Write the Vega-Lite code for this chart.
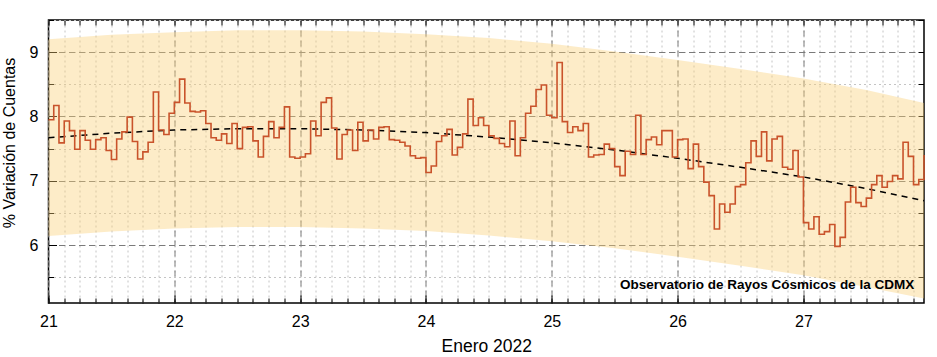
{
  "$schema": "https://vega.github.io/schema/vega-lite/v6.json",
  "width": 875.5,
  "height": 283,
  "autosize": {"type": "none"},
  "padding": {"left": 48.5, "top": 20, "right": 13, "bottom": 54},
  "config": {
    "view": {"stroke": "black", "strokeWidth": 1.5},
    "font": "Liberation Sans",
    "axis": {"domain": false, "labelFont": "Liberation Sans", "titleFont": "Liberation Sans", "labelColor": "black", "titleColor": "black", "tickColor": "black", "titleFontWeight": "normal", "labelFlush": false, "labelOverlap": false}
  },
  "datasets": {
    "serie": [
      {"t":21,"v":7.95},{"t":21.0417,"v":8.17},{"t":21.0833,"v":7.59},{"t":21.125,"v":7.93},{"t":21.1667,"v":7.78},{"t":21.2083,"v":7.49},{"t":21.25,"v":7.78},{"t":21.2917,"v":7.63},{"t":21.3333,"v":7.49},{"t":21.375,"v":7.64},{"t":21.4167,"v":7.67},{"t":21.4583,"v":7.47},{"t":21.5,"v":7.33},{"t":21.5417,"v":7.65},{"t":21.5833,"v":7.76},{"t":21.625,"v":7.99},{"t":21.6667,"v":7.61},{"t":21.7083,"v":7.34},{"t":21.75,"v":7.45},{"t":21.7917,"v":7.60},{"t":21.8333,"v":8.38},{"t":21.875,"v":7.79},{"t":21.9167,"v":7.72},{"t":21.9583,"v":8.05},
      {"t":22,"v":8.22},{"t":22.0417,"v":8.58},{"t":22.0833,"v":8.21},{"t":22.125,"v":8.08},{"t":22.1667,"v":8.07},{"t":22.2083,"v":8.09},{"t":22.25,"v":7.89},{"t":22.2917,"v":7.67},{"t":22.3333,"v":7.63},{"t":22.375,"v":7.73},{"t":22.4167,"v":7.58},{"t":22.4583,"v":7.89},{"t":22.5,"v":7.50},{"t":22.5417,"v":7.83},{"t":22.5833,"v":7.84},{"t":22.625,"v":7.62},{"t":22.6667,"v":7.37},{"t":22.7083,"v":7.69},{"t":22.75,"v":7.92},{"t":22.7917,"v":7.67},{"t":22.8333,"v":7.83},{"t":22.875,"v":8.15},{"t":22.9167,"v":7.37},{"t":22.9583,"v":7.35},
      {"t":23,"v":7.37},{"t":23.0417,"v":7.42},{"t":23.0833,"v":7.93},{"t":23.125,"v":7.70},{"t":23.1667,"v":8.22},{"t":23.2083,"v":8.29},{"t":23.25,"v":7.82},{"t":23.2917,"v":7.34},{"t":23.3333,"v":7.72},{"t":23.375,"v":7.79},{"t":23.4167,"v":7.47},{"t":23.4583,"v":7.91},{"t":23.5,"v":7.62},{"t":23.5417,"v":7.79},{"t":23.5833,"v":7.65},{"t":23.625,"v":7.83},{"t":23.6667,"v":7.84},{"t":23.7083,"v":7.64},{"t":23.75,"v":7.63},{"t":23.7917,"v":7.60},{"t":23.8333,"v":7.54},{"t":23.875,"v":7.39},{"t":23.9167,"v":7.35},{"t":23.9583,"v":7.36},
      {"t":24,"v":7.13},{"t":24.0417,"v":7.23},{"t":24.0833,"v":7.61},{"t":24.125,"v":7.70},{"t":24.1667,"v":7.80},{"t":24.2083,"v":7.40},{"t":24.25,"v":7.52},{"t":24.2917,"v":7.73},{"t":24.3333,"v":8.27},{"t":24.375,"v":7.86},{"t":24.4167,"v":7.98},{"t":24.4583,"v":7.86},{"t":24.5,"v":7.70},{"t":24.5417,"v":7.66},{"t":24.5833,"v":7.58},{"t":24.625,"v":7.53},{"t":24.6667,"v":7.93},{"t":24.7083,"v":7.39},{"t":24.75,"v":7.67},{"t":24.7917,"v":8.05},{"t":24.8333,"v":8.16},{"t":24.875,"v":8.42},{"t":24.9167,"v":8.49},{"t":24.9583,"v":8.02},
      {"t":25,"v":7.98},{"t":25.0417,"v":8.84},{"t":25.0833,"v":7.92},{"t":25.125,"v":7.75},{"t":25.1667,"v":7.84},{"t":25.2083,"v":7.78},{"t":25.25,"v":7.89},{"t":25.2917,"v":7.37},{"t":25.3333,"v":7.40},{"t":25.375,"v":7.41},{"t":25.4167,"v":7.57},{"t":25.4583,"v":7.50},{"t":25.5,"v":7.22},{"t":25.5417,"v":7.08},{"t":25.5833,"v":7.46},{"t":25.625,"v":7.41},{"t":25.6667,"v":8.02},{"t":25.7083,"v":7.41},{"t":25.75,"v":7.64},{"t":25.7917,"v":7.68},{"t":25.8333,"v":7.56},{"t":25.875,"v":7.78},{"t":25.9167,"v":7.78},{"t":25.9583,"v":7.37},
      {"t":26,"v":7.64},{"t":26.0417,"v":7.65},{"t":26.0833,"v":7.19},{"t":26.125,"v":7.57},{"t":26.1667,"v":7.22},{"t":26.2083,"v":6.98},{"t":26.25,"v":6.77},{"t":26.2917,"v":6.25},{"t":26.3333,"v":6.64},{"t":26.375,"v":6.51},{"t":26.4167,"v":6.64},{"t":26.4583,"v":6.91},{"t":26.5,"v":6.94},{"t":26.5417,"v":7.28},{"t":26.5833,"v":7.62},{"t":26.625,"v":7.38},{"t":26.6667,"v":7.76},{"t":26.7083,"v":7.31},{"t":26.75,"v":7.65},{"t":26.7917,"v":7.69},{"t":26.8333,"v":7.21},{"t":26.875,"v":7.18},{"t":26.9167,"v":7.47},{"t":26.9583,"v":7.06},
      {"t":27,"v":6.35},{"t":27.0417,"v":6.25},{"t":27.0833,"v":6.44},{"t":27.125,"v":6.17},{"t":27.1667,"v":6.21},{"t":27.2083,"v":6.32},{"t":27.25,"v":5.98},{"t":27.2917,"v":6.12},{"t":27.3333,"v":6.67},{"t":27.375,"v":6.90},{"t":27.4167,"v":6.66},{"t":27.4583,"v":6.60},{"t":27.5,"v":6.73},{"t":27.5417,"v":6.94},{"t":27.5833,"v":7.08},{"t":27.625,"v":6.90},{"t":27.6667,"v":6.99},{"t":27.7083,"v":7.08},{"t":27.75,"v":7.03},{"t":27.7917,"v":7.60},{"t":27.8333,"v":7.38},{"t":27.875,"v":6.94},{"t":27.9167,"v":7.02},{"t":27.9583,"v":7.40}
    ],
    "banda": [
      {"t":21,"trend":7.67,"lo":6.14,"hi":9.20},
      {"t":21.5,"trend":7.74,"lo":6.21,"hi":9.27},
      {"t":22,"trend":7.79,"lo":6.26,"hi":9.31},
      {"t":22.5,"trend":7.81,"lo":6.28,"hi":9.34},
      {"t":23,"trend":7.81,"lo":6.28,"hi":9.34},
      {"t":23.5,"trend":7.79,"lo":6.26,"hi":9.32},
      {"t":24,"trend":7.75,"lo":6.22,"hi":9.28},
      {"t":24.5,"trend":7.68,"lo":6.15,"hi":9.22},
      {"t":25,"trend":7.59,"lo":6.06,"hi":9.13},
      {"t":25.5,"trend":7.48,"lo":5.95,"hi":9.01},
      {"t":26,"trend":7.35,"lo":5.82,"hi":8.88},
      {"t":26.5,"trend":7.21,"lo":5.68,"hi":8.74},
      {"t":27,"trend":7.06,"lo":5.53,"hi":8.59},
      {"t":27.5,"trend":6.88,"lo":5.35,"hi":8.41},
      {"t":27.9583,"trend":6.69,"lo":5.17,"hi":8.21}
    ],
    "nota": [{"t":27.88,"y":5.38,"txt":"Observatorio de Rayos Cósmicos de la CDMX"}]
  },
  "resolve": {"axis": {"x": "independent", "y": "independent"}},
  "layer": [
    {
      "data": {"name": "banda"},
      "mark": {"type": "area", "color": "#fad076", "opacity": 0.4},
      "encoding": {
        "x": {"field": "t", "type": "quantitative", "scale": {"domain": [21, 27.9583], "nice": false, "zero": false},
          "axis": {"orient": "bottom", "values": [21,21.125,21.25,21.375,21.5,21.625,21.75,21.875,22,22.125,22.25,22.375,22.5,22.625,22.75,22.875,23,23.125,23.25,23.375,23.5,23.625,23.75,23.875,24,24.125,24.25,24.375,24.5,24.625,24.75,24.875,25,25.125,25.25,25.375,25.5,25.625,25.75,25.875,26,26.125,26.25,26.375,26.5,26.625,26.75,26.875,27,27.125,27.25,27.375,27.5,27.625,27.75,27.875],
            "labels": false, "tickSize": -5, "grid": true, "gridColor": "#c4c4c4", "gridDash": [2, 3], "gridWidth": 1, "title": null}},
        "y": {"field": "lo", "type": "quantitative", "scale": {"domain": [5.1, 9.5], "nice": false, "zero": false},
          "axis": {"orient": "left", "values": [5.5,6,6.5,7,7.5,8,8.5,9,9.5], "labels": false, "tickSize": -5, "grid": true, "gridColor": "#c4c4c4", "gridDash": [2, 3], "gridWidth": 1, "title": null}},
        "y2": {"field": "hi"}
      }
    },
    {
      "data": {"name": "banda"},
      "mark": {"type": "line", "color": "black", "strokeDash": [6, 5], "strokeWidth": 1.5},
      "encoding": {
        "x": {"field": "t", "type": "quantitative", "scale": {"domain": [21, 27.9583], "nice": false, "zero": false},
          "axis": {"orient": "bottom", "values": [21,22,23,24,25,26,27], "tickSize": -8, "labelPadding": 18.8, "labelFontSize": 16, "grid": true, "gridColor": "#7a7a7a", "gridDash": [6, 4], "gridWidth": 1,
            "title": "Enero 2022", "titleFontSize": 17.5, "titleY": 43, "titleBaseline": "middle"}},
        "y": {"field": "trend", "type": "quantitative", "scale": {"domain": [5.1, 9.5], "nice": false, "zero": false},
          "axis": {"orient": "left", "values": [6,7,8,9], "tickSize": -8, "labelPadding": 18.5, "labelFontSize": 16, "grid": true, "gridColor": "#7a7a7a", "gridDash": [6, 4], "gridWidth": 1,
            "title": "% Variación de Cuentas", "titleFontSize": 16, "titleX": -39.5, "titleY": 122.5, "titleBaseline": "middle", "titleAlign": "center", "titleAngle": -90}}
      }
    },
    {
      "data": {"name": "serie"},
      "mark": {"type": "line", "interpolate": "step-after", "color": "#c9532b", "strokeWidth": 1.6},
      "encoding": {
        "x": {"field": "t", "type": "quantitative", "scale": {"domain": [21, 27.9583], "nice": false, "zero": false},
          "axis": {"orient": "top", "values": [21,21.125,21.25,21.375,21.5,21.625,21.75,21.875,22,22.125,22.25,22.375,22.5,22.625,22.75,22.875,23,23.125,23.25,23.375,23.5,23.625,23.75,23.875,24,24.125,24.25,24.375,24.5,24.625,24.75,24.875,25,25.125,25.25,25.375,25.5,25.625,25.75,25.875,26,26.125,26.25,26.375,26.5,26.625,26.75,26.875,27,27.125,27.25,27.375,27.5,27.625,27.75,27.875],
            "labels": false, "tickSize": -5, "grid": false, "title": null}},
        "y": {"field": "v", "type": "quantitative", "scale": {"domain": [5.1, 9.5], "nice": false, "zero": false},
          "axis": {"orient": "right", "values": [5.5,6,6.5,7,7.5,8,8.5,9,9.5], "labels": false, "tickSize": -6, "grid": false, "title": null}}
      }
    },
    {
      "data": {"name": "nota"},
      "mark": {"type": "text", "align": "right", "baseline": "middle", "fontWeight": "bold", "fontSize": 13.5, "color": "black", "font": "Liberation Sans"},
      "encoding": {
        "x": {"field": "t", "type": "quantitative", "axis": null},
        "y": {"field": "y", "type": "quantitative", "axis": null},
        "text": {"field": "txt"}
      }
    }
  ]
}
